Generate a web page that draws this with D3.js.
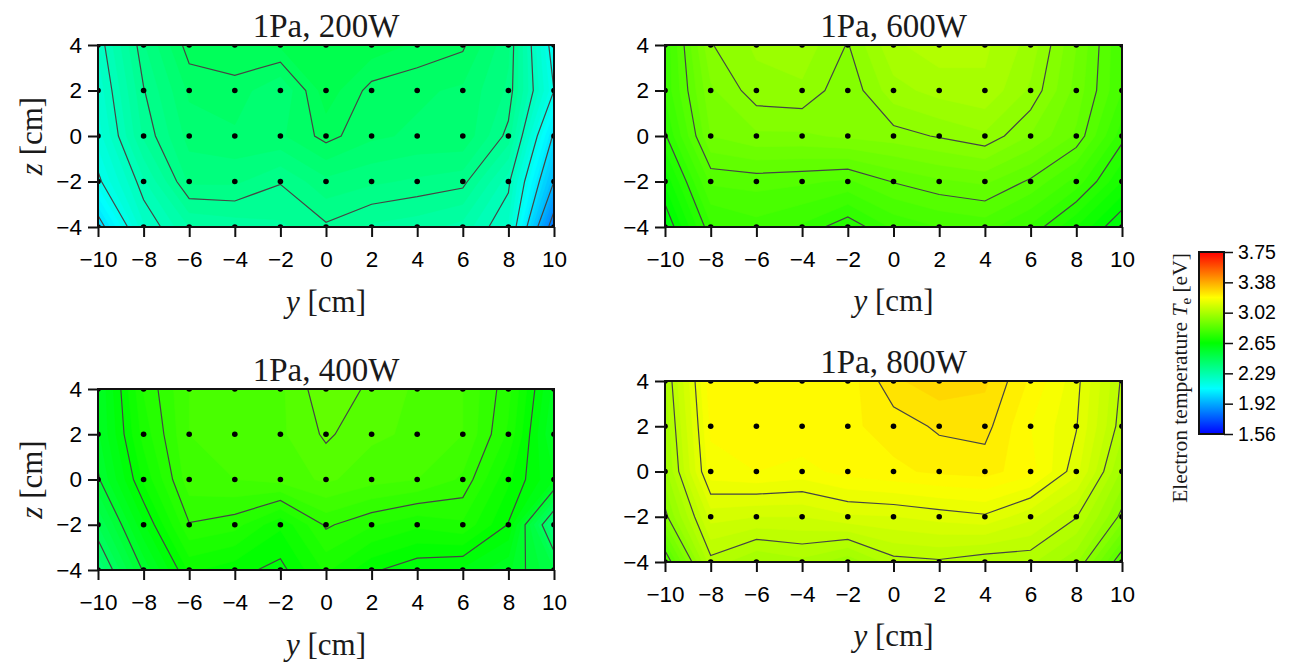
<!DOCTYPE html>
<html>
<head>
<meta charset="utf-8">
<script src="https://cdn.jsdelivr.net/npm/d3@7"></script>
<style>
  body { margin: 0; background: #fff; }
  svg { display: block; }
  .tick text { font-family: "Liberation Sans", Arial, sans-serif; font-size: 22.5px; fill: #000; }
  .serif { font-family: "Liberation Serif", "Times New Roman", serif; fill: #1a1a1a; }
</style>
</head>
<body>
<svg id="chart" width="1289" height="668"></svg>
<script>
// probe positions
var yPos = [-10, -8, -6, -4, -2, 0, 2, 4, 6, 8, 10];
var zPos = [4, 2, 0, -2, -4]; // rows, top to bottom

var titles = ["1Pa, 200W", "1Pa, 600W", "1Pa, 400W", "1Pa, 800W"];

// electron temperature Te [eV], one row per z, one column per y
var te200 = [
  [2.229, 2.371, 2.464, 2.47, 2.48, 2.50, 2.49, 2.47, 2.455, 2.38, 2.12],
  [2.207, 2.348, 2.43, 2.44, 2.40, 2.49, 2.44, 2.43, 2.42, 2.37, 2.15],
  [2.186, 2.329, 2.41, 2.42, 2.42, 2.46, 2.43, 2.42, 2.42, 2.34, 2.04],
  [2.14, 2.27, 2.38, 2.38, 2.352, 2.393, 2.38, 2.37, 2.36, 2.26, 1.95],
  [2.02, 2.22, 2.30, 2.31, 2.32, 2.345, 2.32, 2.31, 2.29, 2.22, 1.80]
];
var te600 = [
  [2.78, 2.948, 2.98, 2.99, 2.948, 3.02, 3.04, 3.03, 2.99, 2.90, 2.80],
  [2.78, 2.92, 2.965, 2.97, 2.93, 2.99, 3.01, 3.02, 2.97, 2.89, 2.80],
  [2.745, 2.90, 2.92, 2.92, 2.93, 2.938, 2.953, 2.97, 2.923, 2.87, 2.76],
  [2.68, 2.83, 2.835, 2.83, 2.82, 2.852, 2.87, 2.88, 2.845, 2.79, 2.70],
  [2.62, 2.77, 2.79, 2.77, 2.73, 2.78, 2.80, 2.81, 2.77, 2.70, 2.62]
];
var te400 = [
  [2.573, 2.727, 2.80, 2.81, 2.82, 2.87, 2.844, 2.82, 2.80, 2.733, 2.59],
  [2.57, 2.71, 2.80, 2.81, 2.82, 2.855, 2.83, 2.82, 2.80, 2.72, 2.57],
  [2.545, 2.68, 2.79, 2.80, 2.81, 2.83, 2.81, 2.80, 2.77, 2.68, 2.60],
  [2.475, 2.62, 2.748, 2.735, 2.68, 2.755, 2.728, 2.706, 2.72, 2.648, 2.38],
  [2.40, 2.555, 2.68, 2.66, 2.64, 2.705, 2.655, 2.63, 2.62, 2.58, 2.50]
];
var te800 = [
  [3.02, 3.218, 3.22, 3.22, 3.21, 3.27, 3.29, 3.28, 3.22, 3.16, 3.045],
  [3.005, 3.205, 3.22, 3.22, 3.22, 3.235, 3.255, 3.26, 3.20, 3.152, 3.034],
  [2.99, 3.19, 3.20, 3.19, 3.21, 3.22, 3.23, 3.235, 3.21, 3.134, 2.994],
  [2.94, 3.11, 3.10, 3.10, 3.12, 3.124, 3.135, 3.145, 3.107, 3.052, 2.94],
  [2.82, 3.04, 3.00, 3.017, 2.98, 3.039, 3.045, 3.03, 3.03, 2.98, 2.82]
];
var panelData = [te200, te600, te400, te800];

// colour bar
var teRange = [1.56, 3.75];
var cbTicks = [1.56, 1.925, 2.29, 2.655, 3.02, 3.385, 3.75];
var cbTickLabels = ["1.56", "1.92", "2.29", "2.65", "3.02", "3.38", "3.75"];

var fillStep = 0.025;
var fillLevels = d3.range(0, 89).map(function (i) { return +(1.55 + i * fillStep).toFixed(4); });
var lineLevels = d3.range(0, 22).map(function (i) { return +(1.65 + i * 0.1).toFixed(2); });

// rainbow: blue at the bottom of the range, red at the top
var hue = d3.scaleLinear().domain(teRange).range([240, 0]).clamp(true);
function teColor(v) { return d3.hsl(hue(v), 1, 0.5).toString(); }

var layout = [
  {left: 98, right: 554, top: 45, bottom: 227, titleY: 37, labelY: 312, zLabel: true},
  {left: 665, right: 1122, top: 45, bottom: 227, titleY: 37, labelY: 311, zLabel: false},
  {left: 98, right: 554, top: 389, bottom: 570, titleY: 381, labelY: 655, zLabel: true},
  {left: 665, right: 1122, top: 381, bottom: 562, titleY: 373, labelY: 646, zLabel: false}
];

var svg = d3.select("#chart");
var defs = svg.append("defs");

function drawPanel(values, title, L, idx) {
  var x = d3.scaleLinear().domain([-10, 10]).range([L.left, L.right]);
  var z = d3.scaleLinear().domain([-4, 4]).range([L.bottom, L.top]);

  // d3.contours puts grid value i at coordinate i + 0.5
  var gx = function (c) { return x(yPos[0] + (c - 0.5) * (yPos[1] - yPos[0])); };
  var gz = function (r) { return z(zPos[0] + (r - 0.5) * (zPos[1] - zPos[0])); };
  var path = d3.geoPath(d3.geoTransform({
    point: function (px, py) { this.stream.point(gx(px), gz(py)); }
  }));

  var flat = [].concat.apply([], values);
  var contours = d3.contours().size([yPos.length, zPos.length]);

  defs.append("clipPath").attr("id", "clip" + idx)
    .append("rect")
    .attr("x", L.left).attr("y", L.top)
    .attr("width", L.right - L.left).attr("height", L.bottom - L.top);

  var plot = svg.append("g").attr("clip-path", "url(#clip" + idx + ")");

  plot.selectAll(".band")
    .data(contours.thresholds(fillLevels)(flat))
    .enter().append("path")
    .attr("class", "band")
    .attr("d", path)
    .attr("fill", function (d) { return teColor(d.value + fillStep / 2); })
    .attr("stroke", function (d) { return teColor(d.value + fillStep / 2); })
    .attr("stroke-width", 0.6);

  plot.selectAll(".iso")
    .data(contours.thresholds(lineLevels)(flat))
    .enter().append("path")
    .attr("class", "iso")
    .attr("d", path)
    .attr("fill", "none")
    .attr("stroke", "#454545")
    .attr("stroke-width", 1.2);

  var pts = [];
  zPos.forEach(function (zz) { yPos.forEach(function (yy) { pts.push([yy, zz]); }); });
  plot.selectAll(".dot")
    .data(pts)
    .enter().append("circle")
    .attr("class", "dot")
    .attr("cx", function (d) { return x(d[0]); })
    .attr("cy", function (d) { return z(d[1]); })
    .attr("r", 2.8)
    .attr("fill", "#000");

  // axes
  var xAxis = svg.append("g")
    .attr("transform", "translate(0," + L.bottom + ")")
    .call(d3.axisBottom(x).tickValues(yPos).tickSize(10).tickSizeOuter(0).tickPadding(14));
  var zAxis = svg.append("g")
    .attr("transform", "translate(" + L.left + ",0)")
    .call(d3.axisLeft(z).tickValues([-4, -2, 0, 2, 4]).tickSize(10).tickSizeOuter(0).tickPadding(6));
  [xAxis, zAxis].forEach(function (a) {
    a.select(".domain").remove();
    a.selectAll(".tick line").attr("stroke", "#111").attr("stroke-width", 2);
  });

  svg.append("rect")
    .attr("x", L.left).attr("y", L.top)
    .attr("width", L.right - L.left).attr("height", L.bottom - L.top)
    .attr("fill", "none").attr("stroke", "#111").attr("stroke-width", 2);

  svg.append("text")
    .attr("class", "serif")
    .attr("x", (L.left + L.right) / 2).attr("y", L.titleY)
    .attr("text-anchor", "middle")
    .style("font-size", "33px")
    .text(title);

  var yl = svg.append("text")
    .attr("class", "serif")
    .attr("x", (L.left + L.right) / 2).attr("y", L.labelY)
    .attr("text-anchor", "middle")
    .style("font-size", "31px");
  yl.append("tspan").style("font-style", "italic").text("y");
  yl.append("tspan").text(" [cm]");

  if (L.zLabel) {
    var zl = svg.append("text")
      .attr("class", "serif")
      .attr("transform", "translate(42," + ((L.top + L.bottom) / 2) + ") rotate(-90)")
      .attr("text-anchor", "middle")
      .style("font-size", "31px");
    zl.append("tspan").style("font-style", "italic").text("z");
    zl.append("tspan").text(" [cm]");
  }
}

panelData.forEach(function (values, i) { drawPanel(values, titles[i], layout[i], i); });

// colour bar
var cb = {left: 1199, right: 1224, top: 252, bottom: 434};
var cbScale = d3.scaleLinear().domain(teRange).range([cb.bottom, cb.top]);

var grad = defs.append("linearGradient").attr("id", "cbGrad")
  .attr("x1", 0).attr("y1", 1).attr("x2", 0).attr("y2", 0);
grad.selectAll("stop")
  .data(d3.range(0, 41).map(function (i) { return i / 40; }))
  .enter().append("stop")
  .attr("offset", function (t) { return t; })
  .attr("stop-color", function (t) { return teColor(teRange[0] + t * (teRange[1] - teRange[0])); });

svg.append("rect")
  .attr("x", cb.left).attr("y", cb.top)
  .attr("width", cb.right - cb.left).attr("height", cb.bottom - cb.top)
  .attr("fill", "url(#cbGrad)")
  .attr("stroke", "#111").attr("stroke-width", 2);

var cbAxis = svg.append("g")
  .attr("transform", "translate(" + cb.right + ",0)")
  .call(d3.axisRight(cbScale).tickValues(cbTicks).tickSize(9).tickSizeOuter(0).tickPadding(5)
    .tickFormat(function (d, i) { return cbTickLabels[i]; }));
cbAxis.select(".domain").remove();
cbAxis.selectAll(".tick line").attr("stroke", "#111").attr("stroke-width", 1.5);
cbAxis.selectAll(".tick text").style("font-size", "19.5px");

var cbl = svg.append("text")
  .attr("class", "serif")
  .attr("transform", "translate(1187,378) rotate(-90)")
  .attr("text-anchor", "middle")
  .style("font-size", "21.5px");
cbl.append("tspan").text("Electron temperature ");
cbl.append("tspan").style("font-style", "italic").text("T");
cbl.append("tspan").attr("dy", 4).style("font-size", "15px").text("e");
cbl.append("tspan").attr("dy", -4).text(" [eV]");
</script>
</body>
</html>
